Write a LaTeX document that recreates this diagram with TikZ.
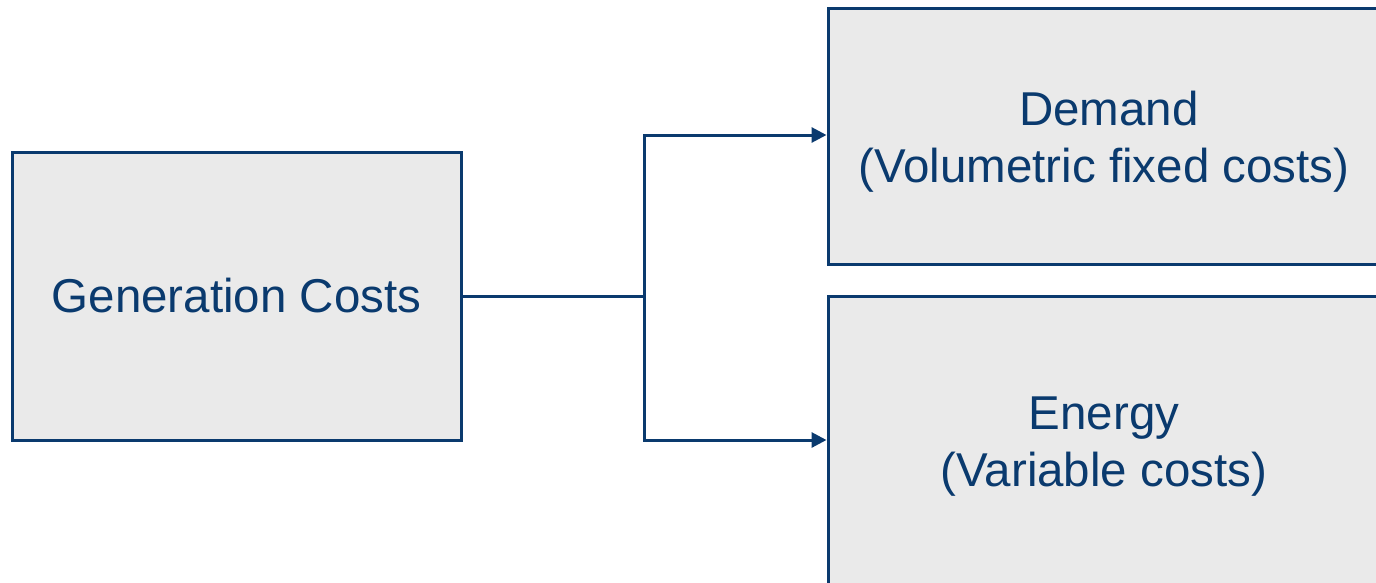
\documentclass[tikz,border=0pt]{standalone}
\usepackage{fontspec}
\setmainfont{Liberation Sans}
\usetikzlibrary{arrows.meta}
\definecolor{navy}{HTML}{0A3A6E}
\definecolor{boxfill}{HTML}{EAEAEA}
\tikzset{
  costbox/.style={draw=navy, fill=boxfill, line width=3pt, rectangle,
    inner sep=0pt},
  costtext/.style={align=center, text=navy, inner sep=0pt,
    font=\fontsize{47.5}{57}\selectfont},
  link/.style={draw=navy, line width=3pt},
  arrowlink/.style={link, -{Triangle[length=15pt,width=15pt]}},
}
\begin{document}
\begin{tikzpicture}[x=1pt,y=-1pt]
  \useasboundingbox (0,0) rectangle (1376,582);
  \clip (0,0) rectangle (1376,582);
  % boxes
  \node[costbox, minimum width=449pt, minimum height=288pt] (gen) at (236.5,296) {};
  \node[costbox, minimum width=552pt, minimum height=256pt] (dem) at (1104,136) {};
  \node[costbox, minimum width=552pt, minimum height=290pt] (en) at (1104,441) {};
  % labels
  \node[costtext] (genlabel) at (gen.center) {Generation Costs};
  \node[costtext, yshift=-6pt] (demlabel) at (dem.center) {\hspace*{10pt}Demand\\(Volumetric fixed costs)};
  \node[costtext, yshift=-6pt] (enlabel) at (en.center) {Energy\\(Variable costs)};
  % connectors
  \coordinate (split) at (644,296);
  \draw[link] (gen.east) -- (split);
  \draw[arrowlink] (split) |- ([yshift=1pt]dem.west);
  \draw[arrowlink] (split) |- ([yshift=1pt]en.west);
\end{tikzpicture}
\end{document}
